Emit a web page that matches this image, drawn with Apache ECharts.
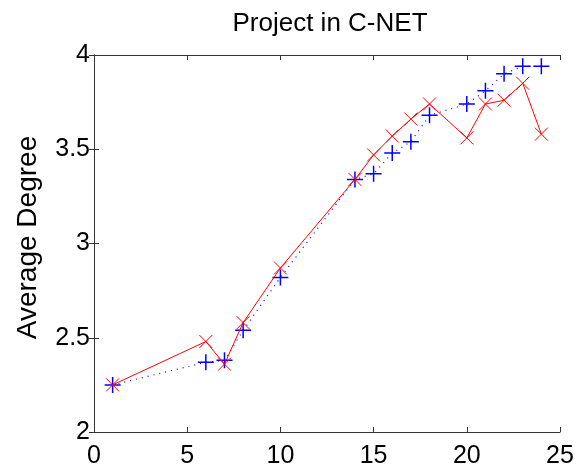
<!DOCTYPE html>
<html>
<head>
<meta charset="utf-8">
<script src="https://cdn.jsdelivr.net/npm/echarts@6/dist/echarts.min.js"></script>
<style>
  html, body { margin: 0; padding: 0; background: #fff; }
  #chart { width: 576px; height: 464px; }
</style>
</head>
<body>
<div id="chart"></div>
<script>
// data
const redX = [1, 6, 7, 8, 10, 14, 15, 16, 17, 18, 20, 21, 22, 23, 24];
const redY = [2.25, 2.48, 2.36, 2.58, 2.87, 3.34, 3.47, 3.57, 3.66, 3.74, 3.56, 3.74, 3.76, 3.85, 3.58];
const blueX = [1, 6, 7, 8, 10, 14, 15, 16, 17, 18, 20, 21, 22, 23, 24];
const blueY = [2.25, 2.37, 2.38, 2.54, 2.82, 3.34, 3.37, 3.48, 3.54, 3.68, 3.74, 3.81, 3.90, 3.94, 3.94];

const chart = echarts.init(document.getElementById('chart'));

const font = 'Liberation Sans, Arial, sans-serif';
const crossPath = 'path://M0,0L10,10M10,0L0,10';
const plusPath = 'path://M5,0L5,10M0,5L10,5';

const axisCommon = {
    axisLine: { show: true, lineStyle: { color: '#333', width: 1 } },
    axisTick: { show: true, inside: true, length: 5, lineStyle: { color: '#333' } },
    splitLine: { show: false }
};

chart.setOption({
    animation: false,
    title: {
        text: 'Project in C-NET',
        left: 325,
        top: 6,
        textAlign: 'center',
        textStyle: { fontFamily: font, fontSize: 26, fontWeight: 'normal', color: '#000' }
    },
    grid: { left: 94, right: 16, top: 55, bottom: 32, outerBoundsMode: 'none' },
    xAxis: [
        Object.assign({
            type: 'value', min: 0, max: 25, interval: 5,
            axisLabel: { fontFamily: font, fontSize: 25, color: '#000', margin: 12 }
        }, axisCommon),
        Object.assign({
            type: 'value', position: 'top', min: 0, max: 25, interval: 5,
            axisLabel: { show: false }
        }, axisCommon)
    ],
    yAxis: [
        Object.assign({
            type: 'value', min: 2, max: 4, interval: 0.5,
            name: 'Average Degree', nameLocation: 'middle', nameGap: 52, nameRotate: 90,
            nameTextStyle: { fontFamily: font, fontSize: 28, color: '#000', padding: [0, 0, 0, 12] },
            axisLabel: { fontFamily: font, fontSize: 25, color: '#000', margin: 4 }
        }, axisCommon),
        Object.assign({
            type: 'value', position: 'right', min: 2, max: 4, interval: 0.5,
            axisLabel: { show: false }
        }, axisCommon)
    ],
    series: [
        {
            type: 'line',
            data: blueX.map((x, i) => [x, blueY[i]]),
            symbol: plusPath,
            symbolSize: 16,
            showAllSymbol: true,
            lineStyle: { color: '#0000ff', width: 1.2, type: [1, 5] },
            itemStyle: { color: 'none', borderColor: '#0000ff', borderWidth: 1.5 },
            z: 2
        },
        {
            type: 'line',
            data: redX.map((x, i) => [x, redY[i]]),
            symbol: crossPath,
            symbolSize: 13,
            showAllSymbol: true,
            lineStyle: { color: '#ff0000', width: 1 },
            itemStyle: { color: 'none', borderColor: '#ff0000', borderWidth: 1 },
            z: 3
        }
    ]
});
</script>
</body>
</html>
